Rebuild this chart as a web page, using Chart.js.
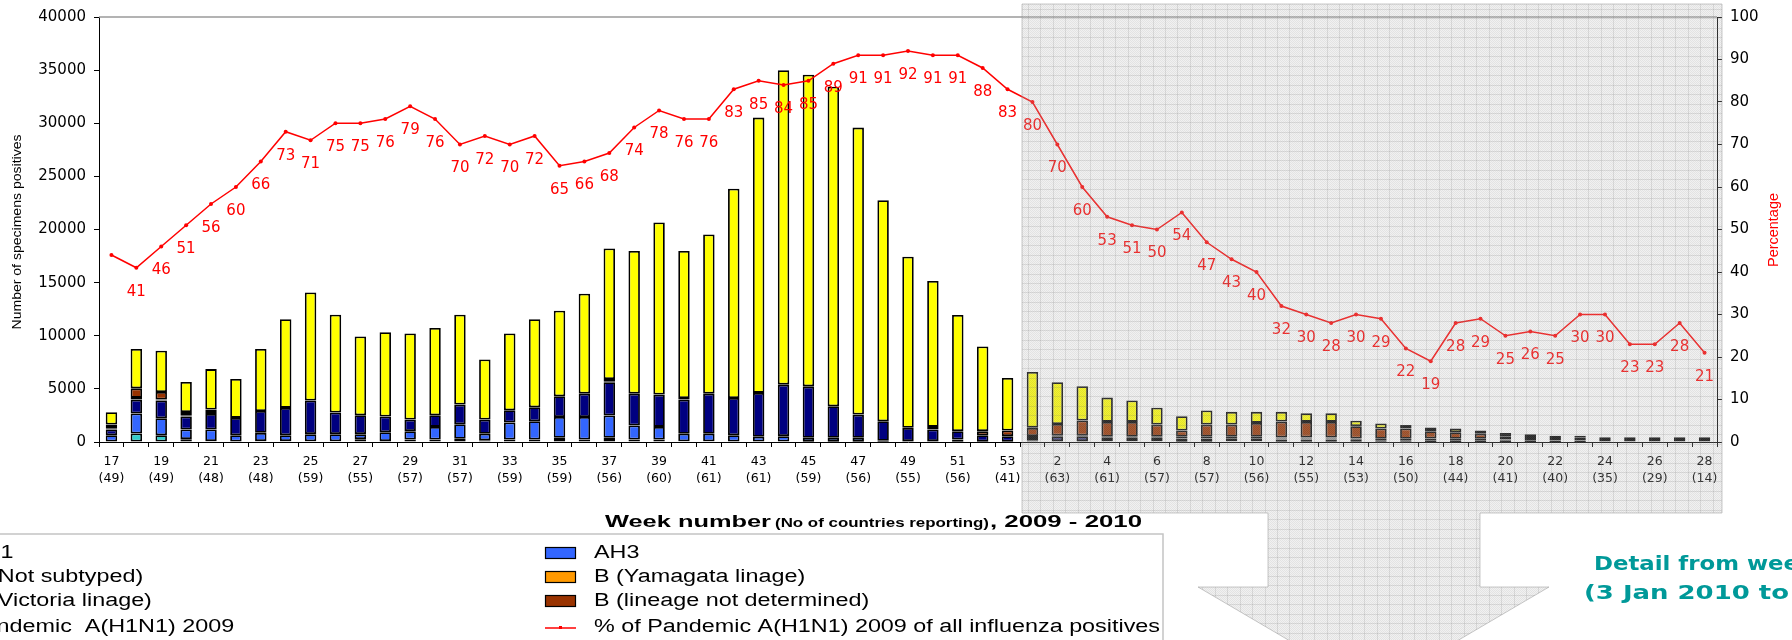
<!DOCTYPE html>
<html><head><meta charset="utf-8">
<script src="https://cdn.jsdelivr.net/npm/chart.js@4.4.1/dist/chart.umd.min.js"></script>
<style>html,body{margin:0;padding:0;background:#fff;overflow:hidden}canvas{display:block}</style>
</head><body>
<canvas id="c" width="1792" height="640" style="width:1792px;height:640px"></canvas>
<script>
// ---- categories: 2009 weeks 17-53, 2010 weeks 1-28 ----
const weeks = [17,18,19,20,21,22,23,24,25,26,27,28,29,30,31,32,33,34,35,36,37,38,39,40,41,42,43,44,45,46,47,48,49,50,51,52,53,
  1,2,3,4,5,6,7,8,9,10,11,12,13,14,15,16,17,18,19,20,21,22,23,24,25,26,27,28];
// number of countries reporting (shown under every other week)
const countries = [49,null,49,null,48,null,48,null,59,null,55,null,57,null,57,null,59,null,59,null,56,null,60,null,61,null,61,null,59,null,56,null,55,null,56,null,41,
  null,63,null,61,null,57,null,57,null,56,null,55,null,53,null,50,null,44,null,41,null,40,null,35,null,29,null,14];

// ---- series values (number of specimens positive) ----
const ah1 = [50,800,640,270,80,50,80,80,60,60,270,100,230,230,300,170,230,230,390,230,390,230,230,60,60,50,40,40,30,30,30,20,20,20,20,10,10,
  0,0,0,0,0,0,0,0,0,0,0,0,0,0,0,0,0,0,0,0,0,0,0,0,0,0,0,0];
const ah3 = [590,1880,1600,900,1090,590,780,560,680,680,470,820,790,1190,1370,600,1600,1730,1970,2130,2100,1320,1190,710,710,590,450,510,360,360,360,100,60,60,210,40,40,
  120,100,100,80,80,60,20,20,60,60,30,30,30,20,20,20,10,10,10,10,10,10,10,0,0,0,0,0];
const notSubtyped = [530,1310,1660,1230,1470,1630,2060,2570,3160,2030,1780,1480,1090,1100,1850,1340,1160,1310,1940,2190,3130,3000,3040,3220,3780,3500,4130,4850,4850,2970,2190,1840,1250,1090,790,590,500,
  340,400,400,310,310,330,300,300,300,300,200,200,200,200,150,150,150,150,150,150,150,120,120,100,100,100,100,100];
const bYamagata = [0,0,0,0,0,0,0,0,0,0,0,0,0,0,0,0,0,0,0,0,100,0,0,0,0,0,0,0,0,0,0,0,0,0,0,0,0,
  0,0,0,0,0,0,0,0,0,0,100,100,100,0,0,0,0,0,0,80,0,0,60,0,0,0,0,0];
const bVictoria = [130,160,100,120,190,0,0,0,0,0,0,0,0,0,0,0,0,0,0,0,0,0,0,0,0,0,0,0,0,0,0,0,0,0,0,0,0,
  100,100,100,100,100,100,170,170,130,130,100,100,100,100,130,130,170,150,150,300,300,250,250,340,340,340,340,340];
const bNotDetermined = [340,900,710,310,220,0,0,0,0,0,0,0,0,0,0,0,0,0,0,0,200,0,0,150,0,0,0,0,0,0,0,0,0,250,0,380,530,
  770,1100,1420,1400,1400,1150,590,1150,1150,1310,1490,1460,1460,1170,970,970,690,610,460,300,260,220,160,0,0,0,0,0];
const pandemic = [1160,3700,3880,2820,3810,3660,5830,8340,10180,9200,7420,7930,8110,8210,8450,5660,7230,8280,8050,9410,12300,13420,16200,13830,14980,19700,25910,29600,29320,30080,27010,20790,16110,13740,10930,7980,4950,
  5260,3920,3230,2290,2010,1590,1350,1320,1200,1040,920,810,810,520,470,340,340,350,310,0,0,0,0,0,0,0,0,0];
// % of pandemic A(H1N1) 2009 of all influenza positives
const pctPandemic = [44,41,46,51,56,60,66,73,71,75,75,76,79,76,70,72,70,72,65,66,68,74,78,76,76,83,85,84,85,89,91,91,92,91,91,88,83,
  80,70,60,53,51,50,54,47,43,40,32,30,28,30,29,22,19,28,29,25,26,25,30,30,23,23,28,21];
const pctUnlabeled = [0];

const seriesNames = ['AH1','AH3','A (Not subtyped)','B (Yamagata linage)','B (Victoria linage)','B (lineage not determined)','Pandemic  A(H1N1) 2009','% of Pandemic A(H1N1) 2009 of all influenza positives'];
const leftTicks = {min:0, max:40000, step:5000};
const rightTicks = {min:0, max:100, step:10};

const colors = ['#33CCCC','#3366FF','#000080','#FF9900','#000000','#993300','#FFFF00','#FF0000'];
const barSeries = [ah1, ah3, notSubtyped, bYamagata, bVictoria, bNotDetermined, pandemic];

const datasets = barSeries.map((arr, i) => ({
  type: 'bar', label: seriesNames[i], data: arr.map(v => v ? v : null),
  backgroundColor: colors[i], borderColor: '#000', borderWidth: 1.8, borderSkipped: false,
  stack: 's', yAxisID: 'y', order: 1, barPercentage: 0.46, categoryPercentage: 1.0
}));
datasets.push({
  type: 'line', label: seriesNames[7], data: pctPandemic, yAxisID: 'y1', order: 0,
  borderColor: '#FF0000', borderWidth: 1.5, pointRadius: 2, pointBackgroundColor: '#FF0000',
  pointBorderWidth: 0, tension: 0, fill: false
});

function sText(ctx, txt, x, y, font, color, sx, align, baseline) {
  ctx.save();
  ctx.font = font; ctx.fillStyle = color;
  ctx.textBaseline = baseline || 'middle'; ctx.textAlign = align || 'left';
  ctx.translate(x, y); ctx.scale(sx, 1);
  ctx.fillText(txt, 0, 0);
  ctx.restore();
}
function fitScale(ctx, txt, font, target) {
  ctx.save(); ctx.font = font; const w = ctx.measureText(txt).width; ctx.restore();
  return target / w;
}

const bgPlugin = {
  id: 'bg',
  beforeDraw(chart) {
    const c = chart.ctx; c.save(); c.fillStyle = '#fff'; c.fillRect(0, 0, chart.width, chart.height); c.restore();
  },
  beforeDatasetsDraw(chart) {
    const c = chart.ctx, a = chart.chartArea;
    c.save(); c.strokeStyle = '#9a9a9a'; c.lineWidth = 1.5;
    c.beginPath(); c.moveTo(a.left, a.top); c.lineTo(a.right, a.top); c.stroke(); c.restore();
  }
};

const labelPlugin = {
  id: 'pctLabels',
  afterDatasetsDraw(chart) {
    const c = chart.ctx;
    const meta = chart.getDatasetMeta(7);
    c.save();
    c.font = '15px "DejaVu Sans"'; c.fillStyle = '#FF0000'; c.textAlign = 'center'; c.textBaseline = 'middle';
    meta.data.forEach((pt, i) => {
      if (pctUnlabeled.includes(i)) return;
      c.fillText(String(pctPandemic[i]), pt.x, pt.y + 24);
    });
    c.restore();
  }
};

function makePattern(ctx) {
  const p = document.createElement('canvas'); p.width = 2; p.height = 2;
  const pc = p.getContext('2d');
  pc.fillStyle = 'rgba(150,150,150,0.27)'; pc.fillRect(0,0,1,1); pc.fillRect(1,1,1,1);
  pc.fillStyle = 'rgba(205,205,205,0.27)'; pc.fillRect(1,0,1,1); pc.fillRect(0,1,1,1);
  return ctx.createPattern(p, 'repeat');
}

const decorPlugin = {
  id: 'decor',
  afterDraw(chart) {
    const c = chart.ctx;
    // axis titles
    c.save(); c.translate(17, 232); c.rotate(-Math.PI/2);
    let f = '13px "Liberation Sans"';
    sText(c, 'Number of specimens positives', 0, 0, f, '#000', fitScale(c, 'Number of specimens positives', f, 195), 'center');
    c.restore();
    const fr = '14px "Liberation Sans"';
    c.save(); c.translate(1774, 230); c.rotate(-Math.PI/2);
    sText(c, 'Percentage', 0, 0, fr, '#FF0000', fitScale(c, 'Percentage', fr, 74), 'center');
    c.restore();

    // x axis title
    const fb = 'bold 17px "Liberation Sans"', fs = 'bold 12px "Liberation Sans"';
    sText(c, 'Week number', 605, 527, fb, '#000', fitScale(c, 'Week number', fb, 166), 'left', 'alphabetic');
    sText(c, '(No of countries reporting)', 775, 527, fs, '#000', fitScale(c, '(No of countries reporting)', fs, 214), 'left', 'alphabetic');
    sText(c, ', 2009 - 2010', 990, 527, fb, '#000', fitScale(c, ', 2009 - 2010', fb, 152), 'left', 'alphabetic');

    // legend box
    c.save(); c.strokeStyle = '#c4c4c4'; c.lineWidth = 1.5;
    c.beginPath(); c.moveTo(0, 534); c.lineTo(1163, 534); c.lineTo(1163, 641); c.stroke(); c.restore();
    const lf = '18px "Liberation Sans"';
    const lsx = fitScale(c, seriesNames[7], lf, 566);
    const rows = [553, 577, 601, 627];
    for (let r = 0; r < 4; r++) {
      const i1 = r * 2, i2 = r * 2 + 1;
      // column 1 (partly outside the picture)
      c.save(); c.fillStyle = colors[i1]; c.strokeStyle = '#000'; c.lineWidth = 1;
      c.fillRect(-84, rows[r] - 6, 30, 12); c.strokeRect(-84, rows[r] - 6, 30, 12); c.restore();
      sText(c, seriesNames[i1], -32, rows[r], lf, '#000', lsx, 'left');
      // column 2
      if (i2 < 7) {
        c.save(); c.fillStyle = colors[i2]; c.strokeStyle = '#000'; c.lineWidth = 1.2;
        c.fillRect(545.5, rows[r] - 5.5, 30, 11); c.strokeRect(545.5, rows[r] - 5.5, 30, 11); c.restore();
      } else {
        c.save(); c.strokeStyle = '#FF0000'; c.lineWidth = 1.5;
        c.beginPath(); c.moveTo(545, rows[r] + 1); c.lineTo(576, rows[r] + 1); c.stroke();
        c.fillStyle = '#FF0000'; c.fillRect(559, rows[r] - 1, 3, 3); c.restore();
      }
      sText(c, seriesNames[i2], 594, rows[r], lf, '#000', lsx, 'left');
    }

    // detail note
    const tf = 'bold 20px "DejaVu Sans"';
    sText(c, 'Detail from week 1 to week 28', 1594, 565, tf, '#009999', fitScale(c, 'Detail from wee', tf, 205), 'left');
    sText(c, '(3 Jan 2010 to 17 Jul 2010)', 1584, 594, tf, '#009999', fitScale(c, '(3 Jan 2010 to', tf, 205), 'left');

    // shaded detail region with arrow
    const path = () => {
      c.beginPath();
      c.moveTo(1022, 4); c.lineTo(1722, 4); c.lineTo(1722, 513); c.lineTo(1480, 513);
      c.lineTo(1480, 587); c.lineTo(1549, 587); c.lineTo(1373.5, 690); c.lineTo(1198, 587);
      c.lineTo(1268, 587); c.lineTo(1268, 513); c.lineTo(1022, 513); c.closePath();
    };
    c.save(); path(); c.clip();
    c.fillStyle = makePattern(c); c.fillRect(1000, 0, 792, 700);
    c.strokeStyle = 'rgba(110,110,110,0.16)'; c.lineWidth = 1;
    c.beginPath();
    for (let x = 1028; x < 1722; x += 12.45) { const xx = Math.round(x) + 0.5; c.moveTo(xx, 0); c.lineTo(xx, 700); }
    for (let y = 9; y < 700; y += 9.45) { const yy = Math.round(y) + 0.5; c.moveTo(1000, yy); c.lineTo(1792, yy); }
    c.stroke();
    c.restore();
    c.save(); path(); c.strokeStyle = 'rgba(150,150,150,0.5)'; c.lineWidth = 1; c.stroke(); c.restore();
  }
};

new Chart(document.getElementById('c'), {
  type: 'bar',
  data: { labels: weeks.map(String), datasets },
  options: {
    responsive: false, animation: false, devicePixelRatio: 1,
    layout: { padding: { top: 17, left: 0, right: 0, bottom: 0 } },
    plugins: { legend: { display: false }, tooltip: { enabled: false } },
    scales: {
      x: {
        stacked: true, offset: true,
        grid: { offset: true, drawOnChartArea: false, drawTicks: true, tickLength: 5, color: '#000', lineWidth: 1 },
        border: { display: true, color: '#000', width: 1 },
        ticks: {
          autoSkip: false, maxRotation: 0, minRotation: 0, padding: 6, color: '#000',
          font: { family: 'DejaVu Sans', size: 12.5, lineHeight: 1.35 },
          callback: (v, i) => countries[i] != null ? [String(weeks[i]), '(' + countries[i] + ')'] : ''
        },
        afterFit: s => { s.height = 198; }
      },
      y: {
        stacked: true, position: 'left', min: leftTicks.min, max: leftTicks.max,
        grid: { drawOnChartArea: false, drawTicks: true, tickLength: 5, color: '#000' },
        border: { display: true, color: '#000', width: 1 },
        ticks: { stepSize: leftTicks.step, padding: 8, color: '#000', font: { family: 'DejaVu Sans', size: 15 }, callback: v => String(v) },
        afterFit: s => { s.width = 99; }
      },
      y1: {
        position: 'right', min: rightTicks.min, max: rightTicks.max,
        grid: { drawOnChartArea: false, drawTicks: true, tickLength: 5, color: '#000' },
        border: { display: true, color: '#000', width: 1 },
        ticks: { stepSize: rightTicks.step, padding: 8, color: '#000', font: { family: 'DejaVu Sans', size: 15 }, callback: v => String(v) },
        afterFit: s => { s.width = 75; }
      }
    }
  },
  plugins: [bgPlugin, labelPlugin, decorPlugin]
});
</script>
</body></html>
